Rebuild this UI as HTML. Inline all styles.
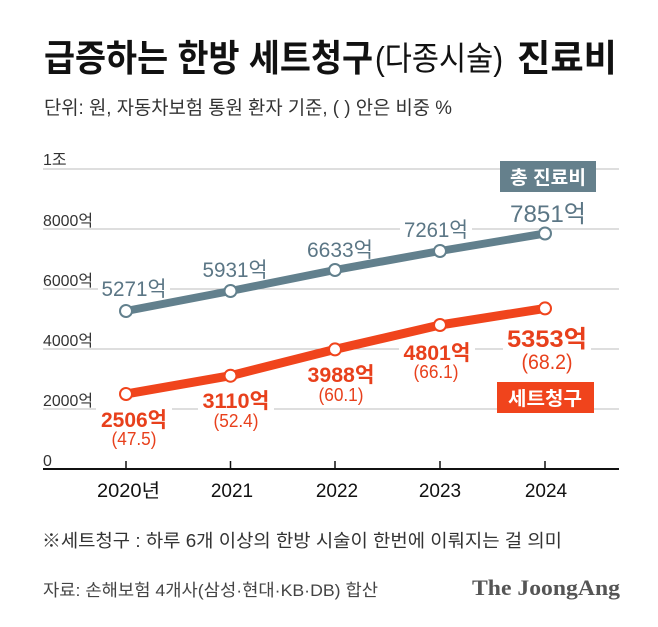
<!DOCTYPE html>
<html><head><meta charset="utf-8">
<style>
html,body{margin:0;padding:0;background:#fff;}
svg{display:block;}
text{font-family:"Liberation Sans","Noto Sans CJK KR",sans-serif;}
</style></head>
<body>
<svg width="658" height="627" viewBox="0 0 658 627" xmlns="http://www.w3.org/2000/svg">
<rect width="658" height="627" fill="#fff"/>
<!-- Title -->
<text x="44" y="71" font-size="37" font-weight="700" fill="#111" textLength="329" lengthAdjust="spacingAndGlyphs">급증하는 한방 세트청구</text>
<text x="375" y="70" font-size="33" font-weight="400" fill="#111" textLength="128" lengthAdjust="spacingAndGlyphs">(다종시술)</text>
<text x="517" y="71" font-size="37" font-weight="700" fill="#111" textLength="100" lengthAdjust="spacingAndGlyphs">진료비</text>
<!-- Subtitle -->
<text x="44" y="114" font-size="19" fill="#333" textLength="408" lengthAdjust="spacingAndGlyphs">단위: 원, 자동차보험 통원 환자 기준, ( ) 안은 비중 %</text>

<!-- Grid -->
<g stroke="#bdbdbd" stroke-width="1">
<line x1="43" y1="169" x2="619" y2="169"/>
<line x1="43" y1="229" x2="619" y2="229"/>
<line x1="43" y1="289" x2="619" y2="289"/>
<line x1="43" y1="349" x2="619" y2="349"/>
<line x1="43" y1="409" x2="619" y2="409"/>
</g>
<g font-size="16" fill="#333">
<text x="43" y="165">1조</text>
<text x="43" y="226" textLength="50" lengthAdjust="spacingAndGlyphs">8000억</text>
<text x="43" y="286" textLength="50" lengthAdjust="spacingAndGlyphs">6000억</text>
<text x="43" y="346" textLength="50" lengthAdjust="spacingAndGlyphs">4000억</text>
<text x="43" y="406" textLength="50" lengthAdjust="spacingAndGlyphs">2000억</text>
<text x="43" y="466">0</text>
</g>
<!-- x axis -->
<line x1="43" y1="469" x2="619" y2="469" stroke="#111" stroke-width="2"/>
<g stroke="#111" stroke-width="1.5">
<line x1="126" y1="461" x2="126" y2="469"/>
<line x1="230.5" y1="461" x2="230.5" y2="469"/>
<line x1="335" y1="461" x2="335" y2="469"/>
<line x1="440" y1="461" x2="440" y2="469"/>
<line x1="545" y1="461" x2="545" y2="469"/>
</g>
<g font-size="19" fill="#111">
<text x="97" y="497" textLength="63" lengthAdjust="spacingAndGlyphs">2020년</text>
<text x="232" y="497" text-anchor="middle">2021</text>
<text x="337" y="497" text-anchor="middle">2022</text>
<text x="440" y="497" text-anchor="middle">2023</text>
<text x="546" y="497" text-anchor="middle">2024</text>
</g>

<!-- label backgrounds -->
<g fill="#fff">
<rect x="98" y="275" width="72" height="23"/>
<rect x="200" y="256" width="70" height="23"/>
<rect x="304" y="236" width="72" height="23"/>
<rect x="400" y="216" width="72" height="23"/>
<rect x="506" y="199" width="84" height="25"/>
<rect x="96" y="406" width="76" height="44"/>
<rect x="198" y="388" width="76" height="43"/>
<rect x="303" y="363" width="76" height="42"/>
<rect x="399" y="340" width="76" height="42"/>
<rect x="503" y="324" width="88" height="48"/>
</g>

<!-- gray labels -->
<g font-size="21" fill="#5b7685" text-anchor="middle">
<text x="134" y="296" textLength="65" lengthAdjust="spacingAndGlyphs">5271억</text>
<text x="235" y="277" textLength="65" lengthAdjust="spacingAndGlyphs">5931억</text>
<text x="340" y="257" textLength="66" lengthAdjust="spacingAndGlyphs">6633억</text>
<text x="436" y="237" textLength="64" lengthAdjust="spacingAndGlyphs">7261억</text>
<text x="548" y="222" font-size="24" textLength="76" lengthAdjust="spacingAndGlyphs">7851억</text>
</g>
<!-- orange labels -->
<g fill="#e8401c" text-anchor="middle">
<text x="134" y="427" font-size="21" font-weight="700" textLength="66" lengthAdjust="spacingAndGlyphs">2506억</text>
<text x="134" y="445" font-size="18" textLength="45" lengthAdjust="spacingAndGlyphs">(47.5)</text>
<text x="236" y="408" font-size="21" font-weight="700" textLength="67" lengthAdjust="spacingAndGlyphs">3110억</text>
<text x="236" y="427" font-size="18" textLength="45" lengthAdjust="spacingAndGlyphs">(52.4)</text>
<text x="341" y="382" font-size="21" font-weight="700" textLength="67" lengthAdjust="spacingAndGlyphs">3988억</text>
<text x="341" y="401" font-size="18" textLength="45" lengthAdjust="spacingAndGlyphs">(60.1)</text>
<text x="437" y="360" font-size="21" font-weight="700" textLength="67" lengthAdjust="spacingAndGlyphs">4801억</text>
<text x="436" y="378" font-size="18" textLength="45" lengthAdjust="spacingAndGlyphs">(66.1)</text>
<text x="547" y="347" font-size="24" font-weight="700" textLength="80" lengthAdjust="spacingAndGlyphs">5353억</text>
<text x="547" y="369" font-size="21" textLength="51" lengthAdjust="spacingAndGlyphs">(68.2)</text>
</g>

<!-- series lines -->
<polyline points="126,311 230.5,291 335,270 440,251 545,233.5" fill="none" stroke="#62808d" stroke-width="8" stroke-linejoin="round"/>
<polyline points="126,394 230.5,375.7 335,349.4 440,325 545,308.4" fill="none" stroke="#f0441c" stroke-width="9" stroke-linejoin="round"/>
<g fill="#fff" stroke="#62808d" stroke-width="2">
<circle cx="126" cy="311" r="6"/>
<circle cx="230.5" cy="291" r="6"/>
<circle cx="335" cy="270" r="6"/>
<circle cx="440" cy="251" r="6"/>
<circle cx="545" cy="233.5" r="6"/>
</g>
<g fill="#fff" stroke="#f0441c" stroke-width="2">
<circle cx="126" cy="394" r="6"/>
<circle cx="230.5" cy="375.7" r="6"/>
<circle cx="335" cy="349.4" r="6"/>
<circle cx="440" cy="325" r="6"/>
<circle cx="545" cy="308.4" r="6"/>
</g>

<!-- legend boxes -->
<rect x="500" y="161" width="96" height="31" fill="#65808c"/>
<text x="548" y="184" font-size="19" font-weight="700" fill="#fff" text-anchor="middle" textLength="76" lengthAdjust="spacingAndGlyphs">총 진료비</text>
<rect x="497" y="382" width="97" height="31" fill="#f0441c"/>
<text x="545" y="405" font-size="19" font-weight="700" fill="#fff" text-anchor="middle" textLength="74" lengthAdjust="spacingAndGlyphs">세트청구</text>

<!-- footnotes -->
<text x="42" y="547" font-size="18" fill="#333" textLength="520" lengthAdjust="spacingAndGlyphs">※세트청구 : 하루 6개 이상의 한방 시술이 한번에 이뤄지는 걸 의미</text>
<text x="43" y="596" font-size="17" fill="#444" textLength="335" lengthAdjust="spacingAndGlyphs">자료: 손해보험 4개사(삼성·현대·KB·DB) 합산</text>
<text x="472" y="595" style="font-family:'Liberation Serif',serif;font-weight:700;" font-size="22" fill="#555" textLength="148" lengthAdjust="spacingAndGlyphs">The JoongAng</text>
</svg>
</body></html>
